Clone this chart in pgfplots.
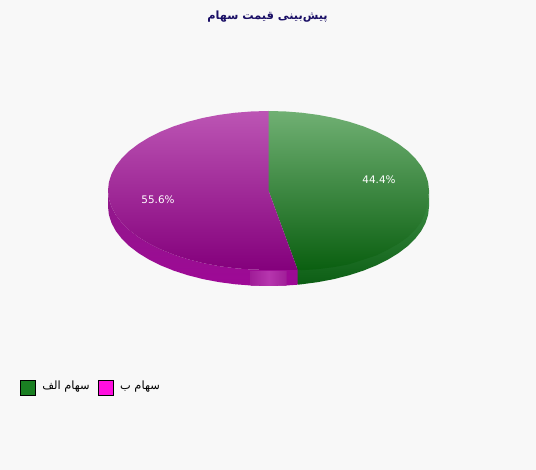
\documentclass[border=0pt]{standalone}
\usepackage{fontspec}
\setmainfont{DejaVu Sans}
\newfontfamily\arabicfont[Script=Arabic]{DejaVu Sans}
\TeXXeTstate=1
\usepackage{pgfplots}
\pgfplotsset{compat=1.18}
\definecolor{bg}{HTML}{F8F8F8}
\definecolor{gtop}{HTML}{70B073}
\definecolor{gbot}{HTML}{0A5F10}
\definecolor{mtop}{HTML}{BC55B4}
\definecolor{mbot}{HTML}{84007C}
\definecolor{gsidetop}{HTML}{3F8F47}
\definecolor{gsidebot}{HTML}{0C5E14}
\definecolor{msidetop}{HTML}{901A8A}
\definecolor{msidebot}{HTML}{9E0896}
\definecolor{rimedge}{HTML}{A01E98}
\definecolor{rimmid}{HTML}{B636AE}
\definecolor{titleblue}{HTML}{1A0F66}
\definecolor{swgreen}{HTML}{1A7F22}
\definecolor{swpink}{HTML}{FF0FDF}
\begin{document}
\begin{tikzpicture}
\begin{axis}[
  scale only axis, width=536pt, height=470pt,
  xmin=0, xmax=536, ymin=0, ymax=470, y dir=reverse,
  hide axis, clip=true]
% page background
\addplot[draw=none, fill=bg] coordinates {(0,0) (536,0) (536,470) (0,470)} --cycle;
% rim, green part
\addplot[draw=none, top color=gsidetop, bottom color=gsidebot] coordinates {
  (429,190.5) (428.12,198.81) (425.49,207.03) (421.15,215.07) (415.12,222.83) (407.50,230.25)
  (398.34,237.23) (387.77,243.69) (375.89,249.58) (362.84,254.82) (348.75,259.35) (333.78,263.13)
  (318.10,266.11) (301.87,268.26) (297.7,268.7)
  (297.7,284.7) (301.87,284.26) (318.10,282.11) (333.78,279.13) (348.75,275.35) (362.84,270.82)
  (375.89,265.58) (387.77,259.69) (398.34,253.23) (407.50,246.25) (415.12,238.83) (421.15,231.07)
  (425.49,223.03) (428.12,214.81) (429,206.5)} --cycle;
% rim, magenta part
\addplot[draw=none, top color=msidetop, bottom color=msidebot] coordinates {
  (108,190.5) (108.88,198.81) (111.51,207.03) (115.85,215.07) (121.88,222.83) (129.50,230.25)
  (138.66,237.23) (149.23,243.69) (161.11,249.58) (174.16,254.82) (188.25,259.35) (203.22,263.13)
  (218.90,266.11) (235.13,268.26) (251.72,269.56) (268.5,270) (285.28,269.56) (297.7,268.7)
  (297.7,284.7) (285.28,285.56) (268.5,286) (251.72,285.56) (235.13,284.26) (218.90,282.11)
  (203.22,279.13) (188.25,275.35) (174.16,270.82) (161.11,265.58) (149.23,259.69) (138.66,253.23)
  (129.50,246.25) (121.88,238.83) (115.85,231.07) (111.51,223.03) (108.88,214.81) (108,206.5)} --cycle;
% pale patch on the rim
\addplot[draw=none, left color=rimedge, right color=rimedge, middle color=rimmid] coordinates {
  (250.7,271) (286.7,271) (286.7,285.5) (268.5,286) (250.7,285.5)} --cycle;
% top face, green slice
\addplot[draw=none, top color=gtop, bottom color=gbot] coordinates {
  (268.5,190.5) (268.5,111) (285.28,111.44) (301.87,112.74) (318.10,114.89) (333.78,117.87)
  (348.75,121.65) (362.84,126.18) (375.89,131.42) (387.77,137.31) (398.34,143.77) (407.50,150.75)
  (415.12,158.17) (421.15,165.93) (425.49,173.97) (428.12,182.19) (429,190.5)
  (428.12,201.81) (425.49,212.03) (421.15,222.07) (415.12,229.83) (407.50,237.25) (398.34,243.73)
  (387.77,249.69) (375.89,255.58) (362.84,259.82) (348.75,264.35) (333.78,267.13) (318.10,269.11)
  (301.87,270.26) (297.7,270)} --cycle;
% top face, magenta slice
\addplot[draw=none, top color=mtop, bottom color=mbot] coordinates {
  (268.5,190.5) (297.7,270) (285.28,270) (268.5,270) (251.72,269.56) (235.13,268.26)
  (218.90,266.11) (203.22,263.13) (188.25,259.35) (174.16,254.82) (161.11,249.58) (149.23,243.69)
  (138.66,237.23) (129.50,230.25) (121.88,222.83) (115.85,215.07) (111.51,207.03) (108.88,198.81)
  (108,190.5) (108.88,182.19) (111.51,173.97) (115.85,165.93) (121.88,158.17) (129.50,150.75)
  (138.66,143.77) (149.23,137.31) (161.11,131.42) (174.16,126.18) (188.25,121.65) (203.22,117.87)
  (218.90,114.89) (235.13,112.74) (251.72,111.44) (268.5,111)} --cycle;
% legend swatches
\addplot[draw=black, line width=0.8pt, fill=swgreen] coordinates {(20.5,380.5) (35.5,380.5) (35.5,395.5) (20.5,395.5)} --cycle;
\addplot[draw=black, line width=0.8pt, fill=swpink] coordinates {(98.5,380.5) (113.5,380.5) (113.5,395.5) (98.5,395.5)} --cycle;
% texts
\node[text=titleblue, font=\arabicfont\bfseries\fontsize{11.3}{13}\selectfont] at (axis cs:267.5,16.5) {\beginR پیش‌بینی قیمت سهام\endR};
\node[text=white, font=\fontsize{10.4}{12}\selectfont] at (axis cs:379,180) {44.4\%};
\node[text=white, font=\fontsize{10.4}{12}\selectfont] at (axis cs:158,200) {55.6\%};
\node[text=black, font=\arabicfont\fontsize{11.4}{13}\selectfont] at (axis cs:66,387) {\beginR سهام الف\endR};
\node[text=black, font=\arabicfont\fontsize{11.4}{13}\selectfont] at (axis cs:140,387) {\beginR سهام ب\endR};
\end{axis}
\end{tikzpicture}
\end{document}
